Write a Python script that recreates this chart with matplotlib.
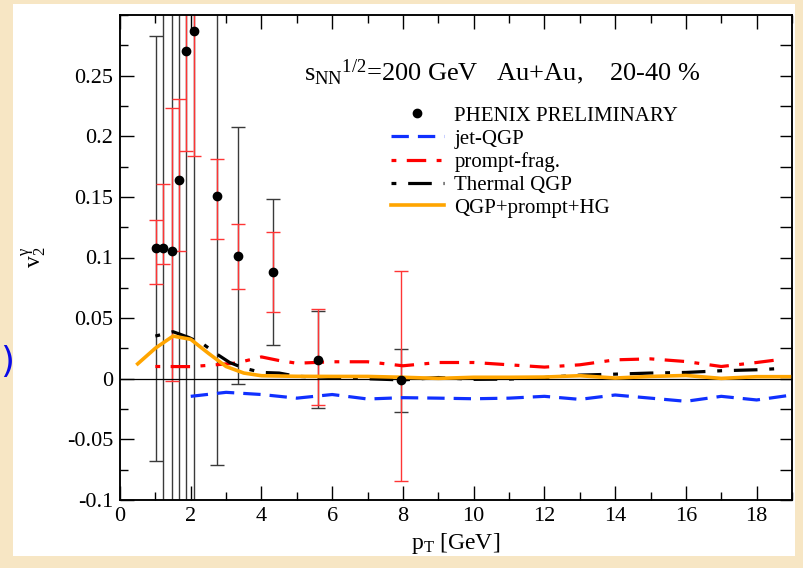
import matplotlib
matplotlib.use('Agg')
import matplotlib.pyplot as plt
import numpy as np
from matplotlib.patches import Rectangle
from matplotlib.ticker import MultipleLocator, NullLocator

# ---------------- data ----------------
pt = [1.01, 1.22, 1.46, 1.67, 1.87, 2.10, 2.73, 3.35, 4.32, 5.61, 7.94]
v2 = [0.108, 0.108, 0.105, 0.164, 0.270, 0.287, 0.151, 0.101, 0.088, 0.0156, -0.0014]
stat_lo = [0.030, 0.0135, 0.107, 0.059, 0.082, 0.103, 0.036, 0.027, 0.033, 0.037, 0.083]
stat_hi = [0.023, 0.053, 0.118, 0.067, 0.082, 0.100, 0.030, 0.027, 0.033, 0.042, 0.090]
sys_lo = [0.176, 0.30, 0.30, 0.30, 0.40, 0.40, 0.222, 0.105, 0.060, 0.040, 0.026]
sys_hi = [0.175, 0.30, 0.30, 0.30, 0.40, 0.40, 0.222, 0.107, 0.060, 0.040, 0.026]

jet_x = [2, 3, 4, 5, 6, 7, 8, 9, 10, 11, 12, 13, 14, 15, 16, 17, 18, 19]
jet_y = [-0.0145, -0.0112, -0.013, -0.016, -0.013, -0.0167, -0.0156, -0.016, -0.0165,
         -0.016, -0.0145, -0.017, -0.0134, -0.016, -0.0186, -0.0145, -0.0175, -0.0134]

prompt_x = [1.0, 2.0, 2.7, 3.3, 4.0, 4.5, 5, 6, 7, 8, 9, 10, 11, 12, 13, 14, 15, 16, 17, 18, 18.7]
prompt_y = [0.0101, 0.010, 0.0115, 0.013, 0.018, 0.015, 0.0128, 0.014, 0.014, 0.0107, 0.0134,
            0.0134, 0.0115, 0.0096, 0.0115, 0.0156, 0.0164, 0.0142, 0.0101, 0.0134, 0.016]

thermal_x = [1.0, 1.5, 1.95, 2.36, 2.73, 3.1, 3.5, 4.0, 4.5, 5, 6, 7, 8, 9, 10, 11, 12, 13,
             14, 15, 16, 17, 18, 18.7]
thermal_y = [0.0352, 0.0388, 0.034, 0.0284, 0.0205, 0.0134, 0.0088, 0.0052, 0.0047, 0.002,
             0.001, 0.0, -0.001, 0.001, -0.0005, -0.0003, 0.001, 0.003, 0.0038, 0.0047,
             0.0052, 0.0066, 0.0074, 0.0085]

total_x = [0.5, 1.0, 1.5, 2.0, 2.5, 3.0, 3.5, 4.0, 5, 6, 7, 8, 9, 10, 11, 12, 13, 14, 15,
           16, 17, 18, 19]
total_y = [0.0123, 0.0252, 0.0352, 0.0325, 0.021, 0.0101, 0.0047, 0.0025, 0.002, 0.0019,
           0.0019, 0.0012, 0.0003, 0.0012, 0.0012, 0.0014, 0.0025, 0.0006, 0.0019, 0.0027,
           0.0003, 0.0017, 0.0017]

xticks = [0, 2, 4, 6, 8, 10, 12, 14, 16, 18]
yticks = [-0.1, -0.05, 0, 0.05, 0.1, 0.15, 0.2, 0.25]
ytick_labels = ['-0.1', '-0.05', '0', '0.05', '0.1', '0.15', '0.2', '0.25']

labels = ['PHENIX PRELIMINARY', 'jet-QGP', 'prompt-frag.', 'Thermal QGP', 'QGP+prompt+HG']

# ---------------- style ----------------
plt.rcParams['font.family'] = ['Liberation Serif', 'DejaVu Serif']
plt.rcParams['mathtext.fontset'] = 'custom'
plt.rcParams['mathtext.rm'] = 'Liberation Serif'
plt.rcParams['mathtext.it'] = 'Liberation Serif:italic'
plt.rcParams['lines.scale_dashes'] = False

W, H = 804, 568
fig = plt.figure(figsize=(W / 100, H / 100), dpi=100, facecolor='#f7e6c4')
fig.patches.append(Rectangle((13 / W, 1 - 556 / H), (795 - 13) / W, (556 - 4) / H,
                             transform=fig.transFigure, facecolor='white',
                             edgecolor='none', zorder=-10))
fig.text(0.0, 1 - 362 / H, ')', color='#0a0ae8', fontsize=26, ha='left', va='center',
         family='DejaVu Sans')

ax = fig.add_axes([120 / W, 1 - 500 / H, 672 / W, 485 / H])
ax.set_facecolor('white')

ax.axhline(0, color='black', lw=0.9, zorder=1.5)

ax.errorbar(pt, v2, yerr=[sys_lo, sys_hi], fmt='none', ecolor='#3a3a3a', elinewidth=1.0,
            capsize=5, capthick=1.0, zorder=1)
ax.errorbar(pt, v2, yerr=[stat_lo, stat_hi], fmt='none', ecolor='#ff3535', elinewidth=1.0,
            capsize=5, capthick=1.0, zorder=1.2)

ax.plot(pt, v2, 'o', color='black', ms=6, zorder=6, label=labels[0])
ax.plot(jet_x, jet_y, color='#1030ff', lw=2.3, dashes=(12.5, 6.5), zorder=3, label=labels[1])
ax.plot(prompt_x, prompt_y, color='#ff0000', lw=2.3, dashes=(3.5, 7.5, 14, 7.5), zorder=3,
        label=labels[2])
ax.plot(thermal_x, thermal_y, color='black', lw=2.3, dashes=(3.5, 8.5, 17, 8.5), zorder=3.5,
        label=labels[3])
ax.plot(total_x, total_y, color='#ffa500', lw=2.6, zorder=4, label=labels[4])

ax.set_xlim(0, 19)
ax.set_ylim(-0.1, 0.3)
ax.set_xticks(xticks)
ax.set_xticklabels([str(t) for t in xticks])
ax.set_yticks(yticks)
ax.set_yticklabels(ytick_labels)
ax.xaxis.set_minor_locator(MultipleLocator(1))
ax.yaxis.set_minor_locator(MultipleLocator(0.025))
ax.tick_params(which='major', direction='in', length=10, width=1, top=True, right=False,
               labelsize=16, pad=5, colors='black')
ax.tick_params(which='minor', direction='in', length=5.5, width=1, top=True, right=False)
for s in ax.spines.values():
    s.set_linewidth(1.1)

ax2 = ax.twinx()
ax2.set_ylim(-0.1, 0.3)
ax2.set_yticks(np.arange(-0.1, 0.29, 0.025))
ax2.yaxis.set_minor_locator(NullLocator())
ax2.tick_params(direction='in', length=9, width=1, labelright=False)
for s in ax2.spines.values():
    s.set_linewidth(1.1)

ax.set_xlabel(r'$\mathregular{p_T}$ [GeV]', fontsize=17, labelpad=4)
ax.set_ylabel(r'$\mathregular{v_2^{\gamma}}$', fontsize=17)
ax.yaxis.set_label_coords(-0.106, 0.5)

ax.text(0.274, 0.866, r'$\mathregular{s_{NN}{}^{1/2}}$=200 GeV   Au+Au,    20-40 %',
        transform=ax.transAxes, fontsize=19, ha='left', va='baseline')

leg = ax.legend(loc='upper left', bbox_to_anchor=(0.403, 0.812), frameon=False, fontsize=15,
                handlelength=2.55, handletextpad=0.5, labelspacing=0.16, borderaxespad=0,
                borderpad=0, numpoints=1)

fig.savefig('out.png', dpi=100, facecolor=fig.get_facecolor())
